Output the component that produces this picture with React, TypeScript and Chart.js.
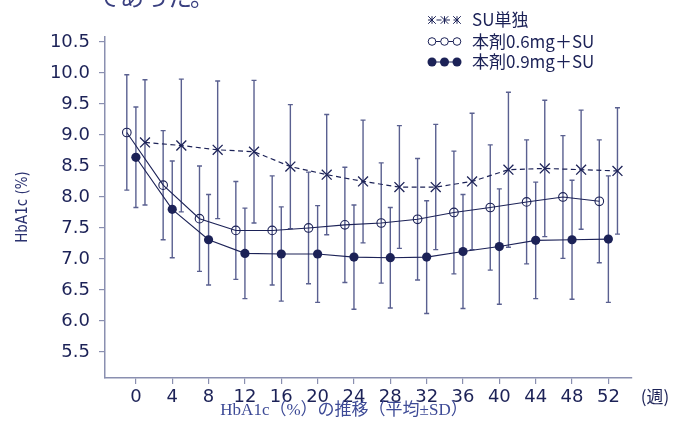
import React, { useEffect, useRef } from "react";
import { Chart, registerables } from "chart.js";

Chart.register(...registerables);

// ---- data ----
const WEEKS = [0, 4, 8, 12, 16, 20, 24, 28, 32, 36, 40, 44, 48, 52];
const X_TICKS = [0, 4, 8, 12, 16, 20, 24, 28, 32, 36, 40, 44, 48, 52];
const Y_TICKS = [5.5, 6.0, 6.5, 7.0, 7.5, 8.0, 8.5, 9.0, 9.5, 10.0, 10.5];

const SERIES_LABELS = ["SU単独", "本剤0.6mg＋SU", "本剤0.9mg＋SU"];

const SU_MEAN = [8.88, 8.83, 8.76, 8.73, 8.49, 8.36, 8.25, 8.16, 8.16, 8.25, 8.44, 8.46, 8.44, 8.42];
const SU_SD = [1.01, 1.07, 1.11, 1.15, 1.0, 0.97, 0.99, 0.99, 1.01, 1.1, 1.25, 1.1, 0.96, 1.02];

const LOW_MEAN = [9.04, 8.19, 7.65, 7.46, 7.46, 7.5, 7.55, 7.58, 7.64, 7.75, 7.83, 7.92, 8.0, 7.93];
const LOW_SD = [0.93, 0.88, 0.85, 0.79, 0.88, 0.9, 0.93, 0.97, 0.98, 0.99, 1.01, 1.0, 0.99, 0.99];

const HIGH_MEAN = [8.64, 7.8, 7.31, 7.09, 7.08, 7.08, 7.03, 7.02, 7.03, 7.12, 7.2, 7.3, 7.31, 7.32];
const HIGH_SD = [0.81, 0.78, 0.73, 0.73, 0.76, 0.78, 0.84, 0.81, 0.91, 0.92, 0.93, 0.94, 0.96, 1.02];

// ---- style ----
const NAVY = "#1c2257";
const AXIS = "#8a8fb0";
const BAR = "#5a6090";
const X_SHIFT = [1, -1, 0]; // display dodge (weeks) per series

export default function App() {
  const ref = useRef<HTMLCanvasElement | null>(null);

  useEffect(() => {
    const canvas = ref.current!;
    const sds = [SU_SD, LOW_SD, HIGH_SD];

    const mk = (means: number[], k: number) =>
      WEEKS.map((w, i) => ({ x: w + X_SHIFT[k], y: means[i] }));

    const extras = {
      id: "extras",
      beforeDatasetsDraw(chart: any) {
        const ctx = chart.ctx;
        const xs = chart.scales.x;
        const ys = chart.scales.y;
        ctx.save();
        ctx.strokeStyle = BAR;
        ctx.lineWidth = 1.4;
        chart.data.datasets.forEach((ds: any, k: number) => {
          ds.data.forEach((p: any, i: number) => {
            const px = xs.getPixelForValue(p.x);
            const top = ys.getPixelForValue(p.y + sds[k][i]);
            const bot = ys.getPixelForValue(p.y - sds[k][i]);
            ctx.beginPath();
            ctx.moveTo(px, top);
            ctx.lineTo(px, bot);
            ctx.moveTo(px - 2.5, top);
            ctx.lineTo(px + 2.5, top);
            ctx.moveTo(px - 2.5, bot);
            ctx.lineTo(px + 2.5, bot);
            ctx.stroke();
          });
        });
        ctx.restore();
      },
      afterDraw(chart: any) {
        const ctx = chart.ctx;
        ctx.save();
        // partial paragraph text at top (cut by the page edge)
        ctx.fillStyle = "#3a4080";
        ctx.font = '24px "Noto Sans CJK JP"';
        ctx.textBaseline = "alphabetic";
        ctx.textAlign = "left";
        ctx.fillText("であった", 96, 6);
        ctx.fillText("。", 190, 6);

        // y title
        ctx.save();
        ctx.translate(23, 207);
        ctx.rotate(-Math.PI / 2);
        ctx.fillStyle = "#2b3270";
        ctx.font = '15px "DejaVu Sans Condensed", "Noto Sans CJK JP"';
        ctx.textAlign = "center";
        ctx.textBaseline = "middle";
        ctx.fillText("HbA1c (%)", 0, 0);
        ctx.restore();

        // x title
        ctx.fillStyle = "#3d4a96";
        ctx.font = '17px "Liberation Serif", "Noto Sans CJK JP"';
        ctx.textAlign = "center";
        ctx.textBaseline = "middle";
        ctx.fillText("HbA1c（%）の推移（平均±SD）", 344, 411);

        // unit
        ctx.fillStyle = NAVY;
        ctx.font = '17px "Noto Sans CJK JP"';
        ctx.fillText("(週)", 655, 397);

        // legend
        const rows = [20, 41.5, 62];
        const mx = [432, 444.5, 457];
        chart.data.datasets.forEach((ds: any, k: number) => {
          const y = rows[k];
          ctx.strokeStyle = NAVY;
          ctx.lineWidth = 1;
          ctx.setLineDash(ds.borderDash || []);
          ctx.beginPath();
          ctx.moveTo(428, y);
          ctx.lineTo(461, y);
          ctx.stroke();
          ctx.setLineDash([]);
          mx.forEach((x) => {
            ctx.beginPath();
            if (ds.pointStyle === "crossRot") {
              const r = 3.8;
              ctx.moveTo(x - r, y - r);
              ctx.lineTo(x + r, y + r);
              ctx.moveTo(x + r, y - r);
              ctx.lineTo(x - r, y + r);
              ctx.moveTo(x, y - r);
              ctx.lineTo(x, y + r);
              ctx.stroke();
            } else if (ds.pointBackgroundColor === NAVY) {
              ctx.fillStyle = NAVY;
              ctx.arc(x, y, 4.5, 0, Math.PI * 2);
              ctx.fill();
            } else {
              ctx.fillStyle = "#fff";
              ctx.arc(x, y, 3.8, 0, Math.PI * 2);
              ctx.fill();
              ctx.stroke();
            }
          });
          ctx.fillStyle = NAVY;
          ctx.font = '17px "Noto Sans CJK JP"';
          ctx.textAlign = "left";
          ctx.textBaseline = "middle";
          ctx.fillText(ds.label, 472, y);
        });
        ctx.restore();
      },
    };

    const tickFont = { family: '"DejaVu Sans", sans-serif', size: 18 };

    const chart = new Chart(canvas, {
      type: "line",
      data: {
        datasets: [
          {
            label: SERIES_LABELS[0],
            data: mk(SU_MEAN, 0),
            borderColor: NAVY,
            borderWidth: 1.2,
            borderDash: [5, 3.5],
            pointStyle: "crossRot",
            pointRadius: 7,
            pointBorderWidth: 1.3,
            pointBorderColor: NAVY,
            pointBackgroundColor: "transparent",
            tension: 0,
            fill: false,
          },
          {
            label: SERIES_LABELS[1],
            data: mk(LOW_MEAN, 1),
            borderColor: NAVY,
            borderWidth: 1.1,
            pointStyle: "circle",
            pointRadius: 4.3,
            pointBorderWidth: 1.1,
            pointBorderColor: NAVY,
            pointBackgroundColor: "transparent",
            tension: 0,
            fill: false,
          },
          {
            label: SERIES_LABELS[2],
            data: mk(HIGH_MEAN, 2),
            borderColor: NAVY,
            borderWidth: 1.1,
            pointStyle: "circle",
            pointRadius: 4.6,
            pointBorderWidth: 0,
            pointBorderColor: NAVY,
            pointBackgroundColor: NAVY,
            tension: 0,
            fill: false,
          },
        ],
      } as any,
      options: {
        animation: false,
        responsive: false,
        devicePixelRatio: 1,
        layout: { padding: { top: 37, right: 50, left: 0, bottom: 0 } },
        plugins: { legend: { display: false }, tooltip: { enabled: false } },
        scales: {
          x: {
            type: "linear",
            min: -3.4,
            max: 54.6,
            afterBuildTicks: (s: any) => {
              s.ticks = X_TICKS.map((v) => ({ value: v }));
            },
            afterFit: (s: any) => {
              s.height = 49;
            },
            ticks: {
              font: tickFont,
              color: NAVY,
              padding: 3,
              maxRotation: 0,
              autoSkip: false,
              callback: (v: any) => String(v),
            },
            grid: { drawOnChartArea: false, drawTicks: true, tickLength: 6, color: AXIS, lineWidth: 1.2 },
            border: { display: true, color: AXIS, width: 1.5 },
          },
          y: {
            type: "linear",
            min: 5.08,
            max: 10.58,
            afterBuildTicks: (s: any) => {
              s.ticks = Y_TICKS.map((v) => ({ value: v }));
            },
            afterFit: (s: any) => {
              s.width = 105;
            },
            ticks: {
              font: tickFont,
              color: NAVY,
              padding: 9,
              callback: (v: any) => Number(v).toFixed(1),
            },
            grid: { drawOnChartArea: false, drawTicks: true, tickLength: 6, color: AXIS, lineWidth: 1.2 },
            border: { display: true, color: AXIS, width: 1.5 },
          },
        },
      } as any,
      plugins: [extras],
    });

    return () => chart.destroy();
  }, []);

  return (
    <div style={{ position: "fixed", left: 0, top: 0, width: 682, height: 427, background: "#fff" }}>
      <canvas ref={ref} width={682} height={427} style={{ width: 682, height: 427, display: "block" }} />
    </div>
  );
}
